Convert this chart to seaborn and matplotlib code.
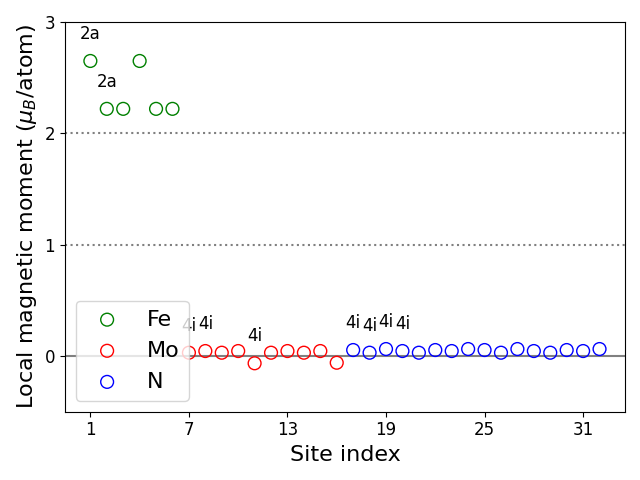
import numpy as np
import pandas as pd
import matplotlib
matplotlib.use("Agg")
import matplotlib.pyplot as plt
import seaborn as sns

# Data
fe_sites = [1, 2, 3, 4, 5, 6]
fe_moments = [2.65, 2.22, 2.22, 2.65, 2.22, 2.22]
mo_sites = [7, 8, 9, 10, 11, 12, 13, 14, 15, 16]
mo_moments = [0.03, 0.045, 0.03, 0.045, -0.065, 0.03, 0.045, 0.03, 0.045, -0.06]
n_sites = list(range(17, 33))
n_moments = [0.054, 0.03, 0.063, 0.045, 0.03, 0.054, 0.045, 0.063,
             0.054, 0.03, 0.063, 0.045, 0.03, 0.054, 0.045, 0.063]
elements = ["Fe", "Mo", "N"]
colors = ["green", "red", "blue"]
annot_sites = [1, 2, 7, 8, 11, 17, 18, 19, 20]
annot_labels = ["2a", "2a", "4i", "4i", "4i", "4i", "4i", "4i", "4i"]
xticks = [1, 7, 13, 19, 25, 31]
yticks = [0, 1, 2, 3]

df = pd.DataFrame({
    "site": fe_sites + mo_sites + n_sites,
    "moment": fe_moments + mo_moments + n_moments,
    "element": ["Fe"] * len(fe_sites) + ["Mo"] * len(mo_sites) + ["N"] * len(n_sites),
})

plt.rcParams["font.family"] = ["DejaVu Sans"]
fig, ax = plt.subplots(figsize=(6.4, 4.8), dpi=100)

ax.axhline(0, color="gray", lw=1.5, zorder=0)
ax.axhline(1, color="gray", ls=":", lw=1.5, zorder=0)
ax.axhline(2, color="gray", ls=":", lw=1.5, zorder=0)

for el, c in zip(elements, colors):
    sub = df[df["element"] == el]
    sns.scatterplot(data=sub, x="site", y="moment", ax=ax, s=85,
                    color=c, facecolors="none", edgecolor=c, linewidth=1,
                    label=el)

lookup = dict(zip(df["site"], df["moment"]))
for s, lab in zip(annot_sites, annot_labels):
    ax.text(s, lookup[s] + 0.16, lab, ha="center", va="bottom", fontsize=12)

ax.set_xlim(-0.55, 33.55)
ax.set_ylim(-0.5, 3)
ax.set_xticks(xticks)
ax.set_yticks(yticks)
ax.tick_params(labelsize=12)
ax.set_xlabel("Site index", fontsize=16)
ax.set_ylabel(r"Local magnetic moment ($\mu_B$/atom)", fontsize=16)
ax.legend(loc="lower left", fontsize=16)
fig.tight_layout()
fig.savefig("out.png", dpi=100)
